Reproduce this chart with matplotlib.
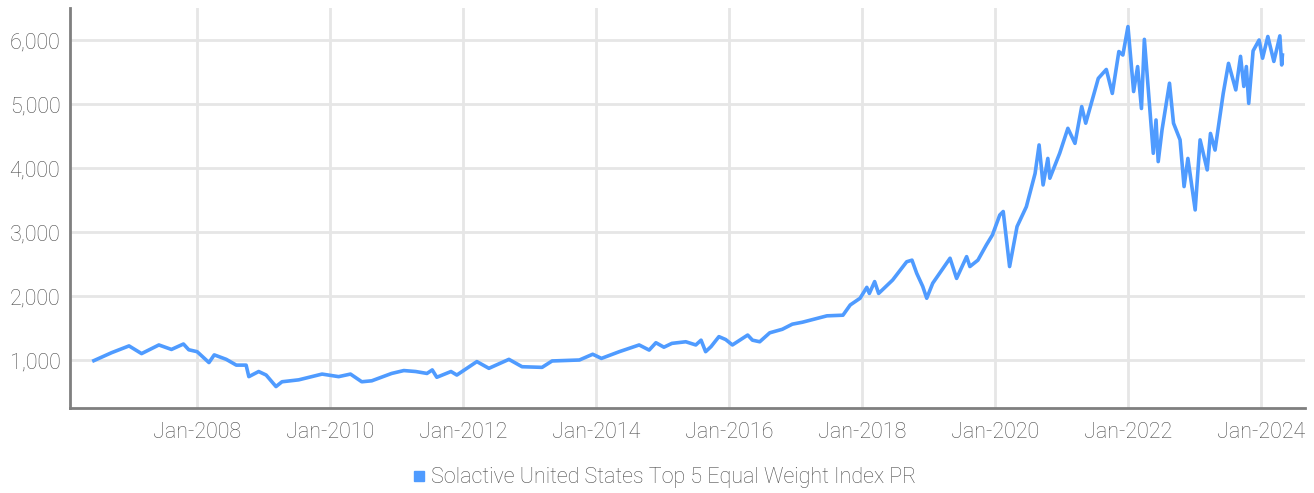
import matplotlib
matplotlib.use("Agg")
import matplotlib.pyplot as plt
import matplotlib.dates as mdates
import pandas as pd

# index levels
dates = [
    "2006-06-14", "2006-09-20", "2006-12-24", "2007-03-03", "2007-06-06", "2007-08-14",
    "2007-10-19", "2007-11-17", "2008-01-02", "2008-03-07", "2008-04-05", "2008-06-10",
    "2008-08-04", "2008-09-27", "2008-10-12", "2008-12-05", "2009-01-15", "2009-03-10",
    "2009-04-12", "2009-07-13", "2009-11-18", "2010-02-17", "2010-04-23", "2010-06-24",
    "2010-08-18", "2010-12-05", "2011-02-10", "2011-04-16", "2011-06-17", "2011-07-16",
    "2011-08-10", "2011-10-27", "2011-11-28", "2012-03-17", "2012-05-22", "2012-09-09",
    "2012-11-20", "2013-03-10", "2013-05-04", "2013-10-01", "2013-12-13", "2014-01-30",
    "2014-05-08", "2014-08-25", "2014-10-19", "2014-11-25", "2015-01-08", "2015-02-21",
    "2015-05-08", "2015-07-02", "2015-07-31", "2015-08-25", "2015-09-24", "2015-11-06",
    "2015-12-13", "2016-01-19", "2016-04-12", "2016-05-08", "2016-06-17", "2016-08-11",
    "2016-10-19", "2016-12-13", "2017-02-06", "2017-04-28", "2017-06-21", "2017-09-17",
    "2017-10-27", "2017-12-20", "2018-01-26", "2018-02-09", "2018-03-10", "2018-04-01",
    "2018-06-17", "2018-09-02", "2018-10-01", "2018-10-27", "2018-11-29", "2018-12-21",
    "2019-01-23", "2019-04-28", "2019-06-03", "2019-07-28", "2019-08-15", "2019-09-28",
    "2019-11-14", "2019-12-17", "2020-01-26", "2020-02-14", "2020-03-20", "2020-04-30",
    "2020-06-20", "2020-08-07", "2020-08-29", "2020-09-20", "2020-10-16", "2020-10-27",
    "2020-12-20", "2021-02-03", "2021-03-14", "2021-04-20", "2021-05-12", "2021-07-20",
    "2021-09-02", "2021-10-05", "2021-11-10", "2021-12-02", "2021-12-30", "2022-01-30",
    "2022-02-21", "2022-03-14", "2022-03-30", "2022-05-18", "2022-06-02", "2022-06-14",
    "2022-07-05", "2022-08-15", "2022-09-06", "2022-10-12", "2022-11-03", "2022-11-24",
    "2023-01-03", "2023-01-30", "2023-03-10", "2023-03-28", "2023-04-22", "2023-06-06",
    "2023-07-05", "2023-08-14", "2023-09-09", "2023-09-27", "2023-10-11", "2023-10-24",
    "2023-11-17", "2023-12-20", "2024-01-08", "2024-02-06", "2024-03-10", "2024-04-12",
    "2024-04-22", "2024-04-26",
]
values = [
    990, 1115, 1220, 1100, 1235, 1165,
    1250, 1160, 1130, 960, 1080, 1010,
    920, 920, 740, 820, 765, 585,
    660, 690, 780, 740, 780, 660,
    675, 790, 835, 820, 790, 845,
    730, 820, 765, 975, 870, 1010,
    895, 885, 985, 1000, 1090, 1025,
    1130, 1235, 1155, 1270, 1200, 1260,
    1285, 1235, 1310, 1130, 1210, 1365,
    1320, 1235, 1390, 1310, 1285, 1425,
    1480, 1560, 1590, 1650, 1690, 1700,
    1860, 1965, 2135, 2040, 2225, 2040,
    2250, 2535, 2560, 2355, 2150, 1965,
    2200, 2590, 2275, 2615, 2460, 2560,
    2800, 2955, 3265, 3320, 2460, 3085,
    3395, 3915, 4360, 3735, 4150, 3840,
    4230, 4620, 4385, 4960, 4700, 5400,
    5540, 5165, 5820, 5765, 6210, 5195,
    5585, 4930, 6010, 4230, 4750, 4100,
    4595, 5325, 4700, 4440, 3710, 4150,
    3345, 4440, 3970, 4540, 4280, 5165,
    5635, 5220, 5745, 5275, 5585, 5010,
    5830, 6000, 5715, 6055, 5665, 6065,
    5610, 5765,
]
series_name = "Solactive United States Top 5 Equal Weight Index PR"
y_ticks = [1000, 2000, 3000, 4000, 5000, 6000]
x_tick_years = [2008, 2010, 2012, 2014, 2016, 2018, 2020, 2022, 2024]

plt.rcParams["font.family"] = ["Roboto", "DejaVu Sans"]
plt.rcParams["font.weight"] = "light"

line_color = "#4f9bff"
text_color = "#4d4d4d"
grid_color = "#e6e6e6"
axis_color = "#7f7f7f"

fig = plt.figure(figsize=(13.14, 4.93), dpi=100)
ax = fig.add_axes([70 / 1314, 1 - 408 / 493, 1235 / 1314, 400 / 493])

x = pd.to_datetime(dates)
ax.plot(x, values, color=line_color, linewidth=2.6, solid_joinstyle="round",
        label=series_name)

ax.set_xlim(pd.Timestamp("2006-02-03"), pd.Timestamp("2024-08-28"))
ax.set_ylim(250, 6500)

ax.set_yticks(y_ticks)
ax.set_yticklabels([f"{v:,}" for v in y_ticks])
ax.set_xticks([pd.Timestamp(f"{y}-01-01") for y in x_tick_years])
ax.xaxis.set_major_formatter(mdates.DateFormatter("%b-%Y"))

ax.grid(True, color=grid_color, linewidth=2)
ax.set_axisbelow(True)
ax.tick_params(length=0, labelsize=15.5, colors=text_color, pad=7)
ax.tick_params(axis="x", pad=10)

for side in ["top", "right"]:
    ax.spines[side].set_visible(False)
for side in ["left", "bottom"]:
    ax.spines[side].set_color(axis_color)
    ax.spines[side].set_linewidth(2)

# square legend marker
marker = plt.Line2D([], [], linestyle="none", marker="s", markersize=7,
                    markerfacecolor=line_color, markeredgecolor=line_color)
fig.legend([marker], [series_name], loc="center", bbox_to_anchor=(0.506, 1 - 478 / 493),
           frameon=False, prop={"size": 15.5, "weight": "light"}, labelcolor=text_color,
           handlelength=0.5, handletextpad=0.3)

fig.savefig("out.png", dpi=100)
